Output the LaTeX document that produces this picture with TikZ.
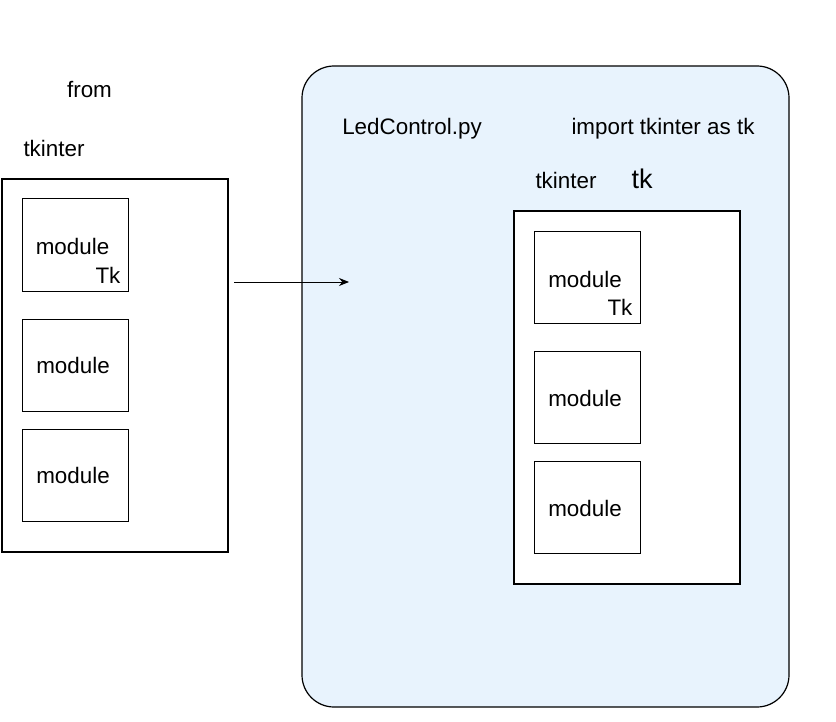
\documentclass[tikz,border=0pt]{standalone}
\usepackage{fontspec}
\setmainfont{Liberation Sans}
\usetikzlibrary{arrows.meta}
\definecolor{filebg}{RGB}{232,243,253}
\begin{document}
\begin{tikzpicture}[x=0.5pt, y=-0.5pt, file_style/.style={draw=black, line width=0.6pt, fill=filebg, rounded corners=16pt, minimum width=243.5pt, minimum height=320.5pt}, package_style/.style={draw=black, line width=0.6pt, fill=white, minimum width=113pt, minimum height=186.5pt}, module_style/.style={draw=black, line width=0.5pt, fill=white, minimum width=53pt, minimum height=46pt}, text_style/.style={inner sep=0pt, anchor=base, font=\fontsize{11.2}{13}\selectfont}, big_text_style/.style={inner sep=0pt, anchor=base, font=\fontsize{13.5}{16}\selectfont}, arrow_style/.style={draw=black, line width=0.5pt, -{Stealth[length=5pt, width=4pt]}}]
      \useasboundingbox (0,0) rectangle (836,722);
      % from tkinter
      \draw
        (115, 365.5) node[package_style] (tkinter){}
        (75, 245) node[module_style] (tk_module){}
        (75, 365) node[module_style] (module2){}
        (75, 475) node[module_style] (module3){};
      \draw
        (89.5, 98) node[text_style] (from_label){from}
        (54, 157) node[text_style] (tkinter_label){tkinter}
        (72.5, 255) node[text_style] (tk_module_label){module}
        (108, 283) node[text_style] (tk_class_label){Tk}
        (73, 373) node[text_style] (module2_label){module}
        (73, 483) node[text_style] (module3_label){module};
      % LedControl.py
      \draw
        (545.5, 386.5) node[file_style] (ledcontrol){}
        (627, 397.5) node[package_style] (tk){}
        (587, 277) node[module_style] (tk_tk_module){}
        (587, 397) node[module_style] (tk_module2){}
        (587, 507) node[module_style] (tk_module3){};
      \draw
        (412, 134) node[text_style] (ledcontrol_label){LedControl.py}
        (663, 134) node[text_style] (import_label){import tkinter as tk}
        (566, 189) node[text_style] (tk_tkinter_label){tkinter}
        (642, 189) node[big_text_style] (tk_label){tk}
        (585, 287) node[text_style] (tk_tk_module_label){module}
        (620, 315) node[text_style] (tk_tk_class_label){Tk}
        (585, 406) node[text_style] (tk_module2_label){module}
        (585, 516) node[text_style] (tk_module3_label){module};
      \coordinate (import_start) at (234, 282);
      \coordinate (import_end) at (349, 282);
      \begin{scope}[-]
        \draw[arrow_style] (import_start) -- (import_end);
      \end{scope}
    \end{tikzpicture}
\end{document}
